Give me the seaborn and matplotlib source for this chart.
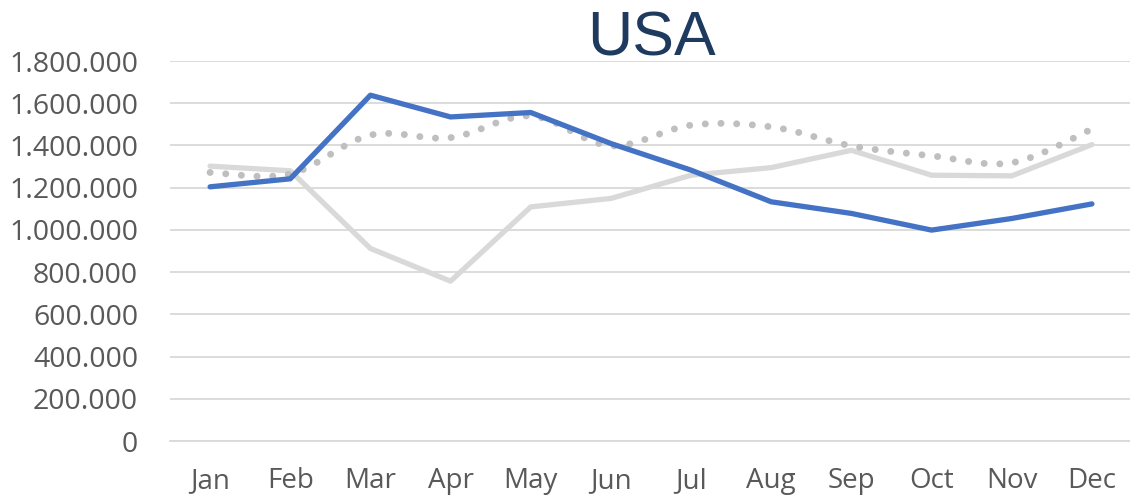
import numpy as np
import pandas as pd
import matplotlib
matplotlib.use('Agg')
import matplotlib.pyplot as plt
from matplotlib.path import Path
from matplotlib.patches import PathPatch
from matplotlib.ticker import FuncFormatter
import seaborn as sns

# ==============================
# DATA
# ==============================
months = ['Jan', 'Feb', 'Mar', 'Apr', 'May', 'Jun',
          'Jul', 'Aug', 'Sep', 'Oct', 'Nov', 'Dec']
usa_current = [1204000, 1242000, 1638000, 1535000, 1556000, 1409000,
               1283000, 1133000, 1078000, 999000, 1054000, 1123000]
usa_previous = [1302000, 1280000, 912000, 757000, 1109000, 1149000,
                1259000, 1295000, 1377000, 1259000, 1256000, 1404000]
usa_average = [1272000, 1265000, 1449000, 1437000, 1540000, 1398000,
               1496000, 1488000, 1398000, 1351000, 1318000, 1477000]

blue = '#4472C4'
light_gray = '#D9D9D9'
dot_gray = '#BFBFBF'
text_gray = '#595959'

sns.set_theme(style='white')
plt.rcParams['font.family'] = ['Open Sans', 'DejaVu Sans']

df = pd.DataFrame({'month': months, 'current': usa_current,
                   'previous': usa_previous, 'average': usa_average})

fig = plt.figure(figsize=(11.3, 5.0), dpi=100)
ax = fig.add_axes([170 / 1130, 1 - 441 / 500, 962 / 1130, 380 / 500])

# previous year (light gray solid)
sns.lineplot(data=df, x='month', y='previous', ax=ax, color=light_gray,
             linewidth=3.8, sort=False, zorder=2)

# average: smoothed dotted curve (Excel style smoothing via bezier)
xs = np.arange(len(months), dtype=float)
ys = np.array(usa_average, dtype=float)
verts = [(xs[0], ys[0])]
codes = [Path.MOVETO]
n = len(xs)
for i in range(n - 1):
    p0 = (xs[max(i - 1, 0)], ys[max(i - 1, 0)])
    p1 = (xs[i], ys[i])
    p2 = (xs[i + 1], ys[i + 1])
    p3 = (xs[min(i + 2, n - 1)], ys[min(i + 2, n - 1)])
    c1 = (p1[0] + (p2[0] - p0[0]) / 6, p1[1] + (p2[1] - p0[1]) / 6)
    c2 = (p2[0] - (p3[0] - p1[0]) / 6, p2[1] - (p3[1] - p1[1]) / 6)
    verts += [c1, c2, p2]
    codes += [Path.CURVE4] * 3
patch = PathPatch(Path(verts, codes), facecolor='none', edgecolor=dot_gray,
                  linewidth=5.0, linestyle=(0, (0.01, 2.25)),
                  capstyle='round', zorder=3)
ax.add_patch(patch)

# current year (blue)
sns.lineplot(data=df, x='month', y='current', ax=ax, color=blue,
             linewidth=3.8, sort=False, zorder=4)

# ==============================
# AXES STYLE
# ==============================
ax.set_xlim(-0.5, 11.5)
ax.set_ylim(0, 1800000)
ax.set_yticks(np.arange(0, 1800001, 200000))
ax.yaxis.set_major_formatter(FuncFormatter(lambda v, p: f'{int(v):,}'.replace(',', '.')))
ax.grid(axis='y', color=light_gray, linewidth=1.3)
ax.grid(axis='x', visible=False)
for s in ['top', 'right', 'left']:
    ax.spines[s].set_visible(False)
ax.spines['bottom'].set_color(light_gray)
ax.spines['bottom'].set_linewidth(1.3)
ax.tick_params(axis='y', length=0, pad=23, labelsize=20.5, labelcolor=text_gray)
ax.tick_params(axis='x', length=0, pad=19, labelsize=20, labelcolor=text_gray)
ax.set_xlabel('')
ax.set_ylabel('')
ax.set_title('USA', fontsize=45, color='#1F3A5F', pad=4,
             family=['Liberation Sans', 'DejaVu Sans'])

plt.savefig('out.png', dpi=100)
plt.close()
